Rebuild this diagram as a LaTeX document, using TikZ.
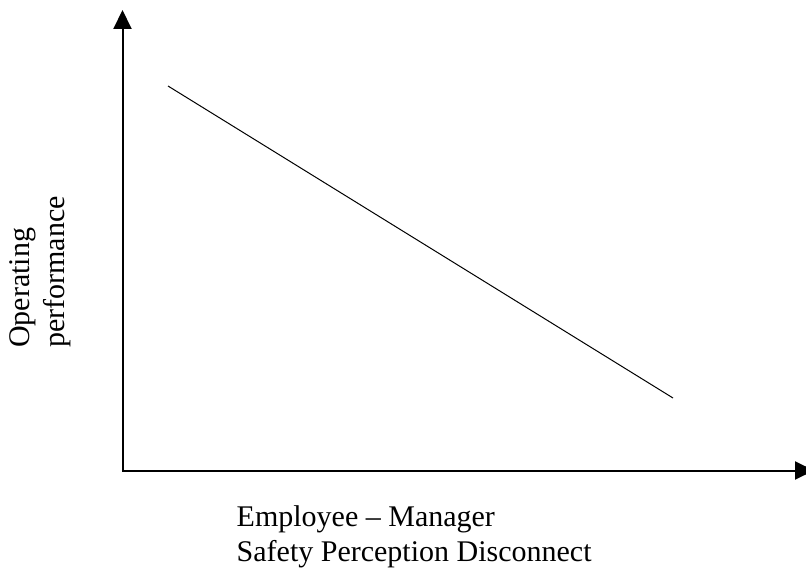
\documentclass[tikz,border=0pt]{standalone}
\usepackage{fontspec}
\setmainfont{Liberation Serif}
\usetikzlibrary{arrows.meta}

\tikzset{
  axisline/.style={line width=2pt,{Triangle[length=19pt,width=18pt]}-{Triangle[length=19pt,width=18pt]}},
  axislabel/.style={inner sep=0pt,align=left,font=\fontsize{30}{35}\selectfont}
}

\begin{document}
\begin{tikzpicture}[x=1pt,y=-1pt]
                      \useasboundingbox (0,0) rectangle (806,569);
                      \coordinate (o) at (122.5,470.5);
                      \coordinate (ytip) at (122.5,10);
                      \coordinate (xtip) at (814,470.5);
                      \draw[axisline] (ytip) -- (o) -- (xtip);
                      \coordinate (hi) at (168,86);
                      \coordinate (lo) at (673,398);
                      \draw[line width=1pt] (hi) -- (lo);
                      \node[axislabel,rotate=90,anchor=north west](ylab)at(9.5,348){Operating\\performance};
                      \node[axislabel,anchor=north west](xlab)at(236.5,505){Employee -- Manager\\Safety Perception Disconnect};
                  \end{tikzpicture}
\end{document}
